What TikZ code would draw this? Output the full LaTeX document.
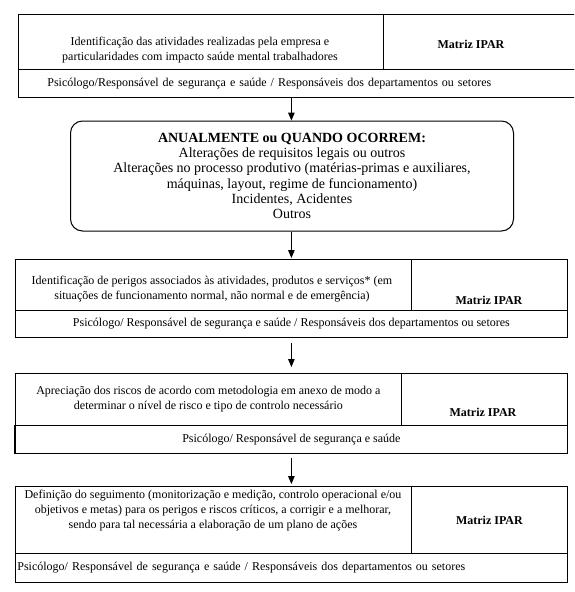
\documentclass[tikz,border=0pt]{standalone}
\usepackage{fontspec}
\setmainfont{Liberation Serif}
\usetikzlibrary{arrows}

\tikzset{
  cell/.style={draw, anchor=north west, inner sep=0pt, align=center},
  txt/.style={align=center, inner sep=0pt},
  seta/.style={-triangle 45, line width=0.8pt},
}

\begin{document}
\fontsize{12}{15}\selectfont
\begin{tikzpicture}[x=1pt, y=-1pt, line width=0.8pt]
	\useasboundingbox (0,0) rectangle (574,592);
	\clip (0,0) rectangle (574,592);

	% Bloco 1 (sai pela direita)
	\node[cell, minimum width=365pt, minimum height=55pt] (t1a) at (18,14) {};
	\node[cell, minimum width=230pt, minimum height=55pt] (t1b) at (383,14) {};
	\node[cell, minimum height=28pt, text width=537pt, inner xsep=29pt, align=left] (t1c) at (18,69)
		{Psicólogo/Responsável de segurança e saúde / Responsáveis dos departamentos ou setores};
	\node[txt] (t1txt) at (200,50) {Identificação das atividades realizadas pela empresa e\\particularidades com impacto saúde mental trabalhadores};
	\node[txt, font=\bfseries] (t1mat) at (471,44) {Matriz IPAR};

	% Caixa arredondada
	\node[draw, rounded corners=12pt, minimum width=443pt, minimum height=110pt, align=center, line width=1pt,
		font=\fontsize{14}{15.3}\selectfont] (chg) at (292,176)
		{\textbf{ANUALMENTE ou QUANDO OCORREM:}\\Alterações de requisitos legais ou outros\\Alterações no processo produtivo (matérias-primas e auxiliares,\\máquinas, layout, regime de funcionamento)\\Incidentes, Acidentes\\Outros};

	% Bloco 2
	\node[cell, minimum width=396pt, minimum height=51pt] (t2a) at (15,259) {};
	\node[cell, minimum width=156pt, minimum height=51pt] (t2b) at (411,259) {};
	\node[cell, minimum width=552pt, minimum height=27pt] (t2c) at (15,310)
		{Psicólogo/ Responsável de segurança e saúde / Responsáveis dos departamentos ou setores};
	\node[txt] (t2txt) at (212,289) {Identificação de perigos associados às atividades, produtos e serviços* (em\\situações de funcionamento normal, não normal e de emergência)};
	\node[txt, font=\bfseries] (t2mat) at (489,300) {Matriz IPAR};

	% Bloco 3
	\node[cell, minimum width=386pt, minimum height=52pt] (t3a) at (15,373)
		{Apreciação dos riscos de acordo com metodologia em anexo de modo a\\determinar o nível de risco e tipo de controlo necessário};
	\node[cell, minimum width=166pt, minimum height=52pt] (t3b) at (401,373) {};
	\node[cell, minimum width=552pt, minimum height=28pt] (t3c) at (15,425)
		{Psicólogo/ Responsável de segurança e saúde};
	\node[txt, font=\bfseries] (t3mat) at (483,412) {Matriz IPAR};
	\draw[line width=2pt] (t3c.north west) -- (t3c.south west);

	% Bloco 4
	\node[cell, minimum width=396pt, minimum height=67pt] (t4a) at (15,486) {};
	\node[cell, minimum width=156pt, minimum height=67pt, font=\bfseries] (t4b) at (411,486) {Matriz IPAR};
	\node[cell, minimum height=29pt, text width=548pt, inner xsep=2pt, align=left] (t4c) at (15,553)
		{Psicólogo/ Responsável de segurança e saúde / Responsáveis dos departamentos ou setores};
	\node[txt] (t4txt) at (213,511) {Definição do seguimento (monitorização e medição, controlo operacional e/ou\\objetivos e metas) para os perigos e riscos críticos, a corrigir e a melhorar,\\sendo para tal necessária a elaboração de um plano de ações};

	% Setas
	\draw[seta] (t1c.south -| t2c.north) -- (chg.north -| t2c.north);
	\draw[seta, shorten >=1pt] (chg.south -| t2c.north) -- (t2c.north |- t2a.north);
	\draw[seta, shorten <=5pt, shorten >=6pt] (t2c.south) -- (t3a.north -| t2c.south);
	\draw[seta, shorten <=4pt, shorten >=2pt] (t3c.south) -- (t4a.north -| t3c.south);
\end{tikzpicture}
\end{document}
